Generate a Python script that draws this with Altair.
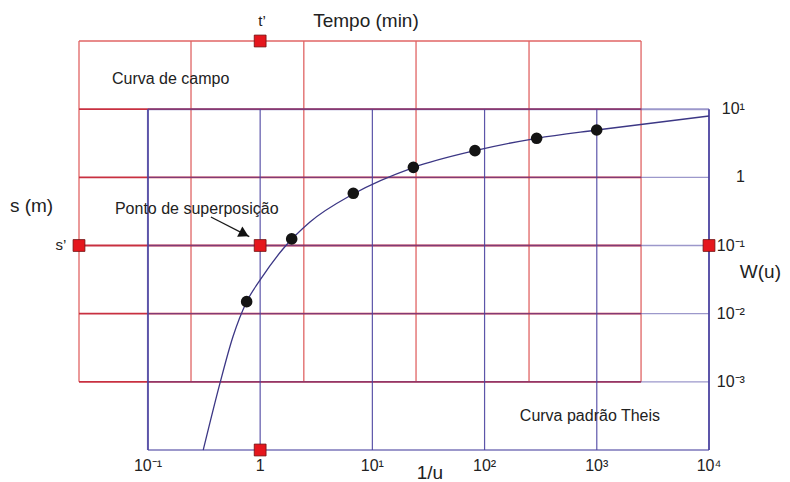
import altair as alt
import pandas as pd

# ---------------- data ----------------
# standard (Theis) grid, in 1/u and W(u) units
blue_x = [0.1, 1, 10, 100, 1000, 10000]
blue_y = [10, 1, 0.1, 0.01, 0.001, 0.0001]
x_tick_labels = ["10⁻¹", "1", "10¹", "10²", "10³", "10⁴"]
y_tick_values = [10, 1, 0.1, 0.01, 0.001]
y_tick_labels = ["10¹", "1", "10⁻¹", "10⁻²", "10⁻³"]
x_label_row = 0.0000583      # W(u) level of the bottom tick-label row
y_label_col = 20900          # 1/u position of the right tick-label column (right edge)

# field-data grid (red), expressed in the standard-curve coordinates after superposition
red_x = [0.0243, 0.242, 2.45, 24.5, 249, 2480]
red_y = [100, 10, 1, 0.1, 0.01, 0.001]

# Theis type curve as drawn
curve_x = [0.311, 0.438, 0.572, 0.758, 1.0, 1.596, 2.78, 6.76, 23.2, 82.1, 291, 998, 10000]
curve_w = [0.0001, 0.00095, 0.00459, 0.0150, 0.0312, 0.0889, 0.221, 0.570, 1.39, 2.46, 3.74, 4.95, 7.94]

# field measurements
obs_x = [0.758, 1.91, 6.76, 23.2, 82.1, 291, 998]
obs_w = [0.0150, 0.125, 0.583, 1.40, 2.46, 3.74, 4.95]

# superposition markers
mark_x = [1, 0.0243, 1, 1, 10000]
mark_y = [100, 0.1, 0.1, 0.0001, 0.1]

# arrow to the superposition point
arrow_x = [0.364, 0.80]
arrow_y = [0.262, 0.135]
arrow_head = (0.72, 0.148)

# annotations
left_text = ["Curva de campo", "s (m)", "Ponto de superposição"]
left_x = [0.0478, 0.00589, 0.0508]
left_y = [27.7, 0.380, 0.343]
left_fs = [16, 19, 16]

center_text = ["Tempo (min)", "t’", "s’", "W(u)", "1/u", "Curva padrão Theis"]
center_x = [8.77, 1.04, 0.0168, 28700, 32.6, 869]
center_y = [196, 196, 0.1017, 0.0409, 0.0000460, 0.000315]
center_fs = [19, 15, 15, 19, 19, 16]

# ---------------- styling ----------------
RED = "#e06464"
RED_DARK = "#c83040"
BLUE = "#4a43a0"
FONT = "Liberation Sans"
TXT = "#222222"

xs = alt.Scale(type="log", domain=[0.0243, 10000], nice=False)
ys = alt.Scale(type="log", domain=[0.0001, 100], nice=False)

def X(f, **kw):
    return alt.X(f, type="quantitative", scale=xs, axis=None, **kw)

def Y(f, **kw):
    return alt.Y(f, type="quantitative", scale=ys, axis=None, **kw)

# red grid (the lines that coincide with the standard grid look darker)
rv = pd.DataFrame({"x": red_x, "y": min(red_y), "y2": max(red_y)})
rh = pd.DataFrame({"y": red_y, "x": min(red_x), "x2": max(red_x),
                   "c": [RED_DARK if v in blue_y else RED for v in red_y],
                   "w": [1.8 if v in blue_y else 1.3 for v in red_y]})
red_v = alt.Chart(rv).mark_rule(color=RED, strokeWidth=1.3).encode(x=X("x"), y=Y("y"), y2="y2")
red_h = alt.Chart(rh).mark_rule().encode(
    y=Y("y"), x=X("x"), x2="x2",
    color=alt.Color("c:N", scale=None), strokeWidth=alt.StrokeWidth("w:Q", scale=None))

# blue grid
bv = pd.DataFrame({"x": blue_x, "y": min(blue_y), "y2": max(blue_y),
                   "w": [2 if v in (min(blue_x), max(blue_x)) else 1.2 for v in blue_x]})
bh = pd.DataFrame({"y": blue_y, "x": min(blue_x), "x2": max(blue_x),
                   "w": [2 if v in (min(blue_y), max(blue_y)) else 1.4 for v in blue_y]})

blue_v = alt.Chart(bv).mark_rule(color=BLUE, opacity=0.9).encode(
    x=X("x"), y=Y("y"), y2="y2", strokeWidth=alt.StrokeWidth("w:Q", scale=None),
)
blue_h = alt.Chart(bh).mark_rule(color=BLUE, opacity=0.55).encode(
    y=Y("y"), x=X("x"), x2="x2", strokeWidth=alt.StrokeWidth("w:Q", scale=None),
)

# tick labels
xlab = alt.Chart(pd.DataFrame({"x": blue_x, "t": x_tick_labels, "y": x_label_row})).mark_text(
    align="center", baseline="middle", font=FONT, fontSize=16, color=TXT
).encode(x=X("x"), y=Y("y"), text="t:N")
ylab = alt.Chart(pd.DataFrame({"y": y_tick_values, "t": y_tick_labels, "x": y_label_col})).mark_text(
    align="right", baseline="middle", font=FONT, fontSize=16, color=TXT
).encode(x=X("x"), y=Y("y"), text="t:N")

curve = alt.Chart(pd.DataFrame({"x": curve_x, "w": curve_w})).mark_line(
    color="#3c3785", strokeWidth=1.3, interpolate="monotone"
).encode(x=X("x"), y=Y("w"))

dots = alt.Chart(pd.DataFrame({"x": obs_x, "w": obs_w})).mark_circle(
    size=135, color="#141414", opacity=1
).encode(x=X("x"), y=Y("w"))

squares = alt.Chart(pd.DataFrame({"x": mark_x, "y": mark_y})).mark_square(
    size=140, filled=True, fill="#e5161d", stroke="#6e1010", strokeWidth=0.8, opacity=1
).encode(x=X("x"), y=Y("y"))

arrow = alt.Chart(pd.DataFrame({"x": arrow_x, "y": arrow_y})).mark_line(
    color="#1a1a1a", strokeWidth=1.3
).encode(x=X("x"), y=Y("y"))

head = alt.Chart(pd.DataFrame({"x": [arrow_head[0]], "y": [arrow_head[1]]})).mark_point(
    shape="triangle-right", filled=True, size=130, angle=27, color="#111111", opacity=1
).encode(x=X("x"), y=Y("y"))

ltxt = alt.Chart(pd.DataFrame({"t": left_text, "x": left_x, "y": left_y, "fs": left_fs})).mark_text(
    align="left", baseline="middle", font=FONT, color=TXT
).encode(x=X("x"), y=Y("y"), text="t:N", size=alt.Size("fs:Q", scale=None))

ctxt = alt.Chart(pd.DataFrame({"t": center_text, "x": center_x, "y": center_y, "fs": center_fs})).mark_text(
    align="center", baseline="middle", font=FONT, color=TXT
).encode(x=X("x"), y=Y("y"), text="t:N", size=alt.Size("fs:Q", scale=None))

chart = alt.layer(
    red_v, red_h, blue_v, blue_h, curve, dots, arrow, head, squares,
    xlab, ylab, ltxt, ctxt
).properties(
    width=630, height=409,
    autosize=alt.AutoSizeParams(type="none"),
    padding={"left": 71, "top": 33, "right": 73, "bottom": 36},
    background="white",
).configure_view(stroke=None)

chart.save("out.html", embed_options={"renderer": "svg", "actions": False})
